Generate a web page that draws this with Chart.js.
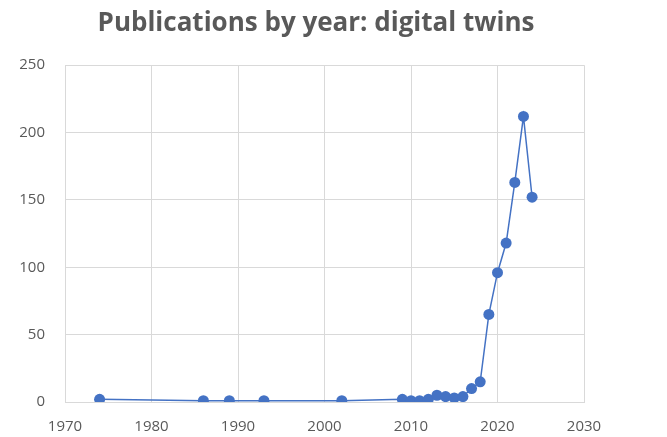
<!DOCTYPE html>
<html>
<head>
<meta charset="utf-8">
<script src="https://cdn.jsdelivr.net/npm/chart.js@4/dist/chart.umd.min.js"></script>
<style>
  html, body { margin: 0; padding: 0; background: #fff; }
  #wrap { width: 667px; height: 437px; position: relative; }
</style>
</head>
<body>
<div id="wrap"><canvas id="pubChart"></canvas></div>
<script>
/* publication counts per year */
const years        = [1974, 1986, 1989, 1993, 2002, 2009, 2010, 2011, 2012, 2013, 2014, 2015, 2016, 2017, 2018, 2019, 2020, 2021, 2022, 2023, 2024];
const publications = [2, 1, 1, 1, 1, 2, 1, 1, 2, 5, 4, 3, 4, 10, 15, 65, 96, 118, 163, 212, 152];

const xTicks = [1970, 1980, 1990, 2000, 2010, 2020, 2030];
const yTicks = [0, 50, 100, 150, 200, 250];

const gridColor = '#d9d9d9';
const textColor = '#595959';

const points = years.map((y, i) => ({ x: y, y: publications[i] }));

/* the title sits centred on the whole picture, not only on the layout box */
const centreTitle = {
  id: 'centreTitle',
  afterLayout(chart) {
    const tb = chart.titleBlock;
    if (!tb) return;
    tb.left = 0;
    tb.right = 632;
    tb.width = 632;
  }
};

new Chart(document.getElementById('pubChart'), {
  type: 'line',
  data: {
    datasets: [{
      data: points,
      borderColor: '#4472c4',
      backgroundColor: '#4472c4',
      borderWidth: 1.5,
      pointRadius: 5.5,
      pointHoverRadius: 5.5,
      pointBorderWidth: 0,
      tension: 0
    }]
  },
  plugins: [centreTitle],
  options: {
    responsive: true,
    maintainAspectRatio: false,
    animation: false,
    layout: { padding: { left: 0, right: 83, top: 0, bottom: 0 } },
    plugins: {
      legend: { display: false },
      tooltip: { enabled: false },
      title: {
        display: true,
        text: 'Publications by year: digital twins',
        color: textColor,
        font: { family: '"Open Sans", "Noto Sans", sans-serif', size: 26, weight: 'bold' },
        padding: { top: 8, bottom: 26 }
      }
    },
    scales: {
      x: {
        type: 'linear',
        min: xTicks[0],
        max: xTicks[xTicks.length - 1],
        afterBuildTicks: (axis) => { axis.ticks = xTicks.map(v => ({ value: v })); },
        afterFit: (axis) => { axis.height = 35; },
        ticks: {
          color: textColor,
          font: { family: '"Open Sans", sans-serif', size: 15 },
          padding: 16,
          callback: (v) => String(v)
        },
        grid: { color: gridColor, drawTicks: false },
        border: { color: gridColor }
      },
      y: {
        min: yTicks[0],
        max: yTicks[yTicks.length - 1],
        afterBuildTicks: (axis) => { axis.ticks = yTicks.map(v => ({ value: v })); },
        afterFit: (axis) => { axis.width = 65; },
        ticks: {
          color: textColor,
          font: { family: '"Open Sans", sans-serif', size: 15 },
          padding: 20
        },
        grid: { color: gridColor, drawTicks: false },
        border: { color: gridColor }
      }
    }
  }
});
</script>
</body>
</html>
